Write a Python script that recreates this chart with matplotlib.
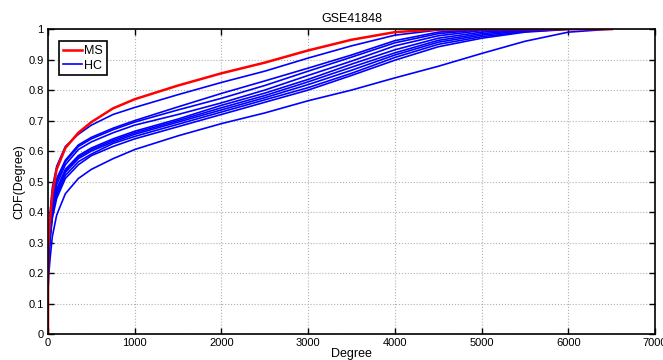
import matplotlib
matplotlib.use('Agg')
import matplotlib.pyplot as plt
import numpy as np

plt.rcParams['font.family'] = ['Liberation Sans', 'DejaVu Sans']

# degree grid shared by all curves
degree = [0, 1, 10, 25, 50, 100, 200, 350, 500, 750, 1000, 1500, 2000, 2500,
          3000, 3500, 4000, 4500, 5000, 5500, 6000, 6500]

# MS (red)
ms_cdf = [0, 0.28, 0.32, 0.38, 0.46, 0.54, 0.61, 0.66, 0.695, 0.74, 0.77, 0.815,
          0.855, 0.89, 0.93, 0.965, 0.99, 0.999, 1, 1, 1, 1]

# HC (blue), one list per sample
hc_1 = [0, 0.25, 0.33, 0.40, 0.48, 0.55, 0.615, 0.655, 0.685, 0.72, 0.743, 0.785,
        0.825, 0.862, 0.905, 0.945, 0.98, 0.997, 1, 1, 1, 1]
hc_2 = [0, 0.22, 0.30, 0.37, 0.44, 0.51, 0.57, 0.62, 0.645, 0.675, 0.70, 0.745,
        0.789, 0.83, 0.872, 0.915, 0.962, 0.99, 1, 1, 1, 1]
hc_3 = [0, 0.22, 0.30, 0.36, 0.43, 0.50, 0.565, 0.615, 0.64, 0.67, 0.695, 0.735,
        0.773, 0.815, 0.862, 0.908, 0.955, 0.985, 0.998, 1, 1, 1]
hc_4 = [0, 0.21, 0.29, 0.35, 0.42, 0.49, 0.555, 0.605, 0.63, 0.66, 0.685, 0.72,
        0.758, 0.80, 0.848, 0.895, 0.945, 0.978, 0.995, 1, 1, 1]
hc_5 = [0, 0.20, 0.28, 0.34, 0.41, 0.475, 0.54, 0.585, 0.61, 0.64, 0.665, 0.705,
        0.750, 0.79, 0.835, 0.885, 0.932, 0.97, 0.99, 0.999, 1, 1]
hc_6 = [0, 0.20, 0.27, 0.33, 0.40, 0.47, 0.535, 0.58, 0.605, 0.635, 0.66, 0.70,
        0.742, 0.782, 0.827, 0.875, 0.922, 0.963, 0.985, 0.997, 1, 1]
hc_7 = [0, 0.19, 0.27, 0.33, 0.395, 0.465, 0.53, 0.575, 0.60, 0.63, 0.655, 0.695,
        0.735, 0.775, 0.818, 0.865, 0.915, 0.957, 0.98, 0.995, 1, 1]
hc_8 = [0, 0.19, 0.26, 0.32, 0.39, 0.455, 0.52, 0.565, 0.59, 0.625, 0.648, 0.688,
        0.728, 0.768, 0.808, 0.855, 0.907, 0.95, 0.975, 0.992, 1, 1]
hc_9 = [0, 0.18, 0.25, 0.31, 0.38, 0.445, 0.51, 0.555, 0.585, 0.615, 0.64, 0.68,
        0.72, 0.76, 0.80, 0.848, 0.898, 0.942, 0.97, 0.99, 0.999, 1]
hc_10 = [0, 0.15, 0.20, 0.25, 0.32, 0.39, 0.46, 0.51, 0.54, 0.575, 0.605, 0.65,
         0.69, 0.725, 0.765, 0.80, 0.84, 0.878, 0.92, 0.96, 0.99, 1]
hc_all = [hc_1, hc_2, hc_3, hc_4, hc_5, hc_6, hc_7, hc_8, hc_9, hc_10]

fig = plt.figure(figsize=(6.63, 3.6), dpi=100)
ax = fig.add_axes([0.0724, 0.0722, 0.9156, 0.847])

for hc in hc_all:
    hc_line, = ax.plot(degree, hc, color='#0000ff', lw=1.2)
ms_line, = ax.plot(degree, ms_cdf, color='#ff0000', lw=1.8)

ax.set_xlim(0, 7000)
ax.set_ylim(0, 1)
ax.set_xticks(np.arange(0, 7001, 1000))
ax.set_yticks(np.arange(0, 1.01, 0.1))
ax.set_yticklabels(['0', '0.1', '0.2', '0.3', '0.4', '0.5', '0.6', '0.7', '0.8', '0.9', '1'])
ax.grid(True, color='#b0b0b0', linestyle=':', linewidth=0.8)
ax.tick_params(direction='in', top=True, right=True, labelsize=8, length=4, width=1, pad=3)
for s in ax.spines.values():
    s.set_linewidth(1.2)

ax.set_title('GSE41848', fontsize=9, pad=5)
ax.set_xlabel('Degree', fontsize=9, labelpad=0)
ax.set_ylabel('CDF(Degree)', fontsize=9, labelpad=2)

leg = ax.legend([ms_line, hc_line], ['MS', 'HC'], loc='upper left', fontsize=9,
                fancybox=False, framealpha=1, edgecolor='black', handlelength=1.5,
                handletextpad=0.2, borderpad=0.3, labelspacing=0.2,
                bbox_to_anchor=(0.008, 0.98))
leg.get_frame().set_linewidth(1.2)

fig.savefig('out.png', dpi=100)
plt.close(fig)
